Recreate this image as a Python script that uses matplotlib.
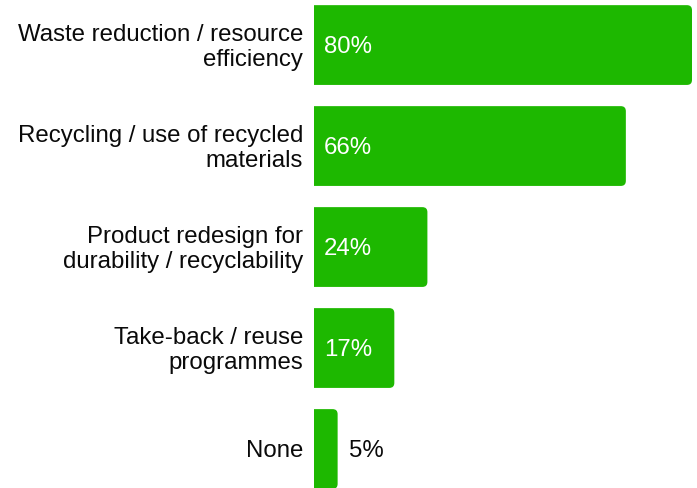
import matplotlib.pyplot as plt
import numpy as np
from matplotlib.path import Path
from matplotlib.patches import PathPatch

categories = ['Waste reduction / resource\nefficiency',
              'Recycling / use of recycled\nmaterials',
              'Product redesign for\ndurability / recyclability',
              'Take-back / reuse\nprogrammes',
              'None']
values = [80, 66, 24, 17, 5]
labels = ['80%', '66%', '24%', '17%', '5%']

green = '#1db800'
plt.rcParams['font.family'] = ['Liberation Sans', 'DejaVu Sans']

fig = plt.figure(figsize=(6.97, 4.88), dpi=100)
# axes run from the bar baseline to the right edge of the figure
ax = fig.add_axes([314/697, 0, 383/697, 1])
ax.set_xlim(0, 383/4.725)
ax.set_ylim(4.386, -0.446)
ax.axis('off')

bh = 0.79
rx = 5/4.725   # corner radius in x data units (~5px)
ry = 5/101     # corner radius in y data units
fs = 17.3
dy = 0.02      # nudge text down a little so glyphs sit centred on the bar


def rounded_bar(y, w):
    # square on the left, rounded on the right
    y0, y1 = y - bh/2, y + bh/2
    r = min(rx, w/2)
    verts = [(0, y0), (w - r, y0), (w, y0), (w, y0 + ry),
             (w, y1 - ry), (w, y1), (w - r, y1), (0, y1), (0, y0)]
    codes = [Path.MOVETO, Path.LINETO, Path.CURVE3, Path.CURVE3,
             Path.LINETO, Path.CURVE3, Path.CURVE3, Path.LINETO, Path.CLOSEPOLY]
    return PathPatch(Path(verts, codes), facecolor=green, edgecolor='none')


ypos = np.arange(len(values))
for i, v in enumerate(values):
    ax.add_patch(rounded_bar(ypos[i], v))
    if v > 10:
        ax.text(2.1, ypos[i] + dy, labels[i], color='white', fontsize=fs,
                va='center', ha='left')
    else:
        ax.text(v + 2.5, ypos[i] + dy, labels[i], color='#0a0a0a', fontsize=fs,
                va='center', ha='left')
    ax.text(-2.3, ypos[i] + dy, categories[i], color='#0a0a0a', fontsize=fs,
            va='center', ha='right', linespacing=1.18, clip_on=False)

fig.savefig('out.png', dpi=100)
